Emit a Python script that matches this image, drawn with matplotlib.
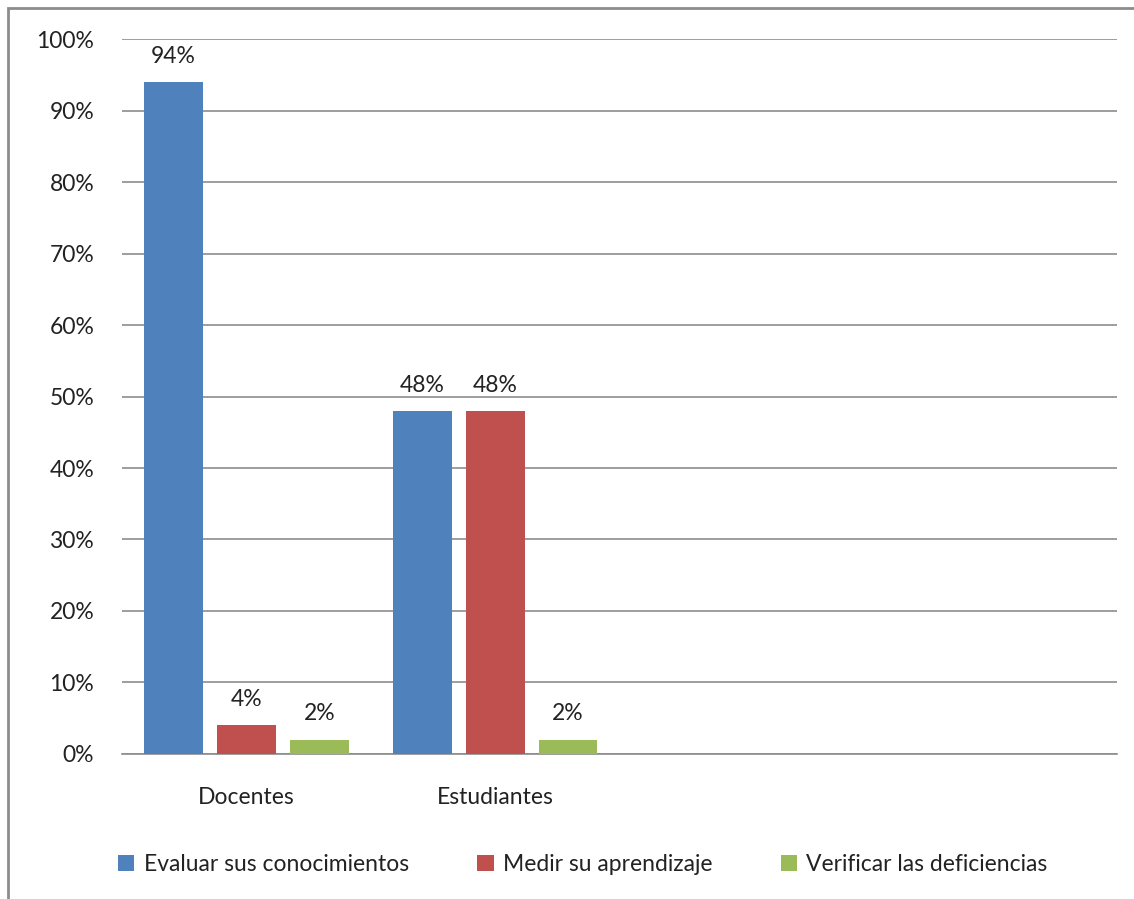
import numpy as np
import matplotlib.pyplot as plt
from matplotlib.patches import Rectangle

plt.rcParams['font.family'] = ['Lato', 'DejaVu Sans']

# datos
categorias = ['Docentes', 'Estudiantes', '', '']
series = ['Evaluar sus conocimientos', 'Medir su aprendizaje', 'Verificar las deficiencias']
evaluar = [0.94, 0.48]
medir = [0.04, 0.48]
verificar = [0.02, 0.02]
colores = ['#4F81BD', '#C0504D', '#9BBB59']

fig = plt.figure(figsize=(11.34, 8.99), dpi=100)
ax = fig.add_axes([0.1076, 0.1613, 0.8774, 0.7953])

x = np.arange(len(evaluar))
ancho = 0.237
paso = 0.293
for i, (valores, nombre) in enumerate(zip([evaluar, medir, verificar], series)):
    pos = x + (i - 1) * paso
    barras = ax.bar(pos, valores, ancho, color=colores[i], label=nombre, zorder=3)
    for b, v in zip(barras, valores):
        ax.text(b.get_x() + b.get_width() / 2, v + 0.036, f'{v:.0%}',
                ha='center', va='center', fontsize=16.5, color='#222222')

ax.set_xlim(-0.5, 3.5)
ax.set_ylim(0, 1)
ax.set_yticks(np.arange(0, 1.01, 0.1))
ax.set_yticklabels([f'{int(round(t * 100))}%' for t in np.arange(0, 1.01, 0.1)])
ax.set_xticks(np.arange(len(categorias)))
ax.set_xticklabels(categorias)
ax.tick_params(axis='both', length=0, labelsize=16.5, labelcolor='#222222')
ax.tick_params(axis='y', pad=20)
ax.tick_params(axis='x', pad=24)
ax.yaxis.grid(True, color='#8C8C8C', linewidth=1.2, zorder=0)
for s in ['top', 'right', 'left']:
    ax.spines[s].set_visible(False)
ax.spines['bottom'].set_color('#8C8C8C')
ax.spines['bottom'].set_linewidth(1.2)

fig.legend(loc='center', bbox_to_anchor=(0.514, 0.038), ncol=3, frameon=False,
           fontsize=16.5, handlelength=0.7, handleheight=0.7, handletextpad=0.4,
           columnspacing=3.0, labelcolor='#222222')

# marco exterior del grafico
fig.patches.append(Rectangle((8 / 1134, -0.1), 1.2, 1 - 8 / 899 + 0.1,
                             transform=fig.transFigure, fill=False,
                             edgecolor='#8C8C8C', linewidth=2))

fig.savefig('out.png', dpi=100)
